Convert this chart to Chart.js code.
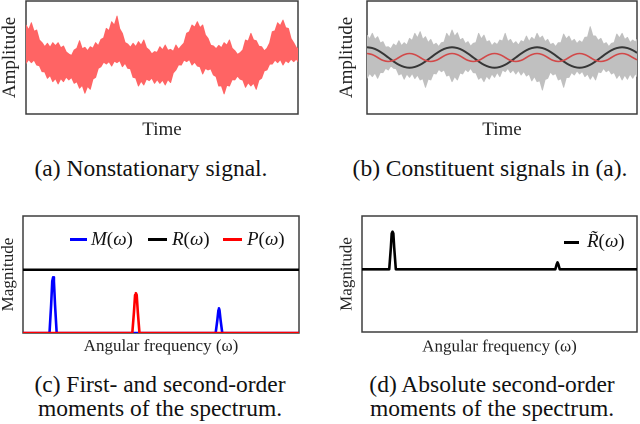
<!DOCTYPE html>
<html>
<head>
<meta charset="utf-8">
<script src="https://cdn.jsdelivr.net/npm/chart.js@4.4.1/dist/chart.umd.min.js"></script>
<style>
  html, body { margin: 0; padding: 0; background: #fff; }
  #fig { position: relative; width: 640px; height: 424px; overflow: hidden;
         font-family: 'Liberation Serif', 'Times New Roman', Times, 'DejaVu Serif', serif; color: #111; }
  #fig canvas { position: absolute; }
  .cap { position: absolute; text-align: center; font-size: 23.5px; line-height: 24px; white-space: nowrap; }
  .leg { position: absolute; font-size: 19px; line-height: 20px; white-space: nowrap; }
  .swatch { position: absolute; height: 3px; }
</style>
</head>
<body>
<div id="fig">
  <canvas id="ch-a" style="left:0;top:0;"></canvas>
  <canvas id="ch-b" style="left:320px;top:0;"></canvas>
  <canvas id="ch-c" style="left:0;top:200px;"></canvas>
  <canvas id="ch-d" style="left:320px;top:200px;"></canvas>

  <div class="cap" style="left:1px;width:300px;top:156px;">(a) Nonstationary signal.</div>
  <div class="cap" style="left:330px;width:320px;top:156px;">(b) Constituent signals in (a).</div>
  <div class="cap" style="left:0;width:320px;top:372px;">(c) First- and second-order<br>moments of the spectrum.</div>
  <div class="cap" style="left:332px;width:320px;top:372px;">(d) Absolute second-order<br>moments of the spectrum.</div>

  <div class="swatch" style="left:70px;top:238px;width:17px;background:#0000ff;"></div>
  <div class="leg" style="left:91px;top:229px;"><i>M</i>(<i>ω</i>)</div>
  <div class="swatch" style="left:148px;top:238px;width:19px;background:#000;"></div>
  <div class="leg" style="left:172px;top:229px;"><i>R</i>(<i>ω</i>)</div>
  <div class="swatch" style="left:223px;top:238px;width:19px;background:#ff0000;"></div>
  <div class="leg" style="left:247px;top:229px;"><i>P</i>(<i>ω</i>)</div>

  <div class="swatch" style="left:564px;top:241px;width:15px;background:#000;"></div>
  <div class="leg" style="left:587px;top:231px;"><i>R&#771;</i>(<i>ω</i>)</div>
</div>

<script>
// ── Data: time-domain panels (a), (b) ──────────────
// band edges are sampled every half step, the two sinusoids every step
const bandT = [0,0.5,1,1.5,2,2.5,3,3.5,4,4.5,5,5.5,6,6.5,7,7.5,8,8.5,9,9.5,10,10.5,11,11.5,12,12.5,
  13,13.5,14,14.5,15,15.5,16,16.5,17,17.5,18,18.5,19,19.5,20,20.5,21,21.5,22,22.5,23,23.5,24,24.5,25,25.5,
  26,26.5,27,27.5,28,28.5,29,29.5,30,30.5,31,31.5,32,32.5,33,33.5,34,34.5,35,35.5,36,36.5,37,37.5,38,38.5,
  39,39.5,40,40.5,41,41.5,42,42.5,43,43.5,44,44.5,45,45.5,46,46.5,47,47.5,48,48.5,49,49.5,50,50.5,50.8];
const timeT = [0,1,2,3,4,5,6,7,8,9,10,11,12,13,14,15,16,17,18,19,20,21,22,23,24,25,
  26,27,28,29,30,31,32,33,34,35,36,37,38,39,40,41,42,43,44,45,46,47,48,49,50,50.8];

// (a) nonstationary signal, upper / lower edge of the red band
const sigUpper = [3.16,2.70,3.38,2.55,2.67,1.70,1.44,1.05,1.38,1.00,1.44,1.15,1.44,0.95,1.12,0.55,0.34,0.20,0.73,0.90,
  1.63,0.85,0.99,0.65,1.05,0.90,1.44,1.15,1.76,1.90,2.83,2.60,3.48,3.15,4.03,2.80,2.35,1.45,1.31,1.00,
  1.38,1.05,1.54,1.20,1.70,0.95,0.73,0.35,0.57,0.50,1.05,0.75,1.21,0.70,0.79,0.60,1.21,0.80,1.12,1.40,
  2.35,2.50,3.16,2.95,3.48,2.90,3.16,2.20,1.86,1.20,1.12,0.85,1.18,0.95,1.44,1.20,1.70,0.90,0.66,0.30,
  0.47,0.75,1.70,1.60,2.35,1.70,1.63,1.10,1.05,0.65,0.89,1.40,2.51,2.60,3.38,3.10,3.64,2.90,2.83,1.85,
  1.44,0.95,0.89];
const sigLower = [-0.57,-0.20,-0.50,-0.25,-0.73,-0.80,-1.38,-1.40,-2.02,-1.75,-2.35,-2.05,-2.57,-2.05,-2.35,-1.90,-2.18,-1.95,-2.51,-2.35,
  -2.99,-2.70,-3.48,-2.80,-3.09,-2.10,-1.93,-1.05,-0.89,-0.45,-0.63,-0.40,-0.83,-0.35,-0.50,-0.30,-0.89,-0.55,-1.05,-1.10,
  -1.93,-2.00,-2.77,-2.30,-2.67,-2.10,-2.25,-2.00,-2.51,-2.15,-2.51,-2.20,-2.67,-2.15,-2.44,-1.50,-1.21,-0.70,-0.73,-0.25,
  -0.40,-0.20,-0.73,-0.45,-0.83,-0.90,-1.60,-1.05,-1.21,-1.10,-1.70,-1.85,-2.77,-2.75,-3.54,-2.70,-2.77,-2.15,-2.18,-1.80,
  -2.11,-2.20,-2.90,-2.45,-2.77,-2.50,-3.09,-2.20,-2.02,-1.30,-1.21,-0.65,-0.63,-0.25,-0.50,-0.20,-0.73,-0.30,-0.50,-0.15,
  -0.40,-0.15,-0.40];

// (b) noise component (gray band) and the two sinusoids
const noiseUpper = [2.18,1.80,2.35,1.75,2.02,1.40,1.54,1.00,1.05,0.85,1.31,1.10,1.63,1.15,1.44,1.20,1.86,1.65,2.35,1.90,
  2.51,1.75,2.02,1.45,1.76,1.20,1.38,1.05,1.44,1.50,2.35,1.95,2.67,2.05,2.41,1.70,1.86,1.35,1.54,1.10,
  1.38,1.45,2.35,1.80,2.18,1.50,1.63,1.15,1.44,1.25,1.70,1.60,2.35,1.55,1.76,1.30,1.54,1.20,1.63,1.50,
  2.08,1.55,1.96,1.70,2.35,1.85,2.08,1.55,1.76,1.25,1.38,1.05,1.44,1.45,2.28,1.80,2.08,1.55,1.76,1.35,
  1.63,1.45,1.96,2.00,2.99,2.10,2.08,1.65,1.86,1.30,1.44,1.05,1.38,1.45,2.28,1.90,2.35,1.75,1.96,1.45,
  1.70,1.50,1.76];
const noiseLower = [-2.02,-1.55,-1.86,-1.50,-2.02,-1.45,-1.47,-1.05,-1.21,-0.80,-1.05,-1.10,-1.70,-1.55,-2.11,-1.60,-1.93,-1.55,-2.05,-1.70,
  -2.18,-2.05,-2.90,-2.10,-2.18,-1.55,-1.60,-1.15,-1.38,-1.20,-1.80,-1.70,-2.35,-1.85,-2.18,-1.50,-1.60,-1.15,-1.38,-1.05,
  -1.47,-1.50,-2.11,-1.90,-2.35,-1.80,-2.11,-1.60,-1.93,-1.45,-1.86,-1.20,-1.38,-1.05,-1.47,-1.20,-1.60,-1.25,-1.70,-1.35,
  -1.80,-1.60,-2.27,-1.85,-2.35,-2.25,-3.16,-2.15,-2.02,-1.40,-1.70,-1.55,-2.18,-2.05,-2.90,-1.95,-1.93,-1.45,-1.70,-1.30,
  -1.60,-1.35,-1.86,-1.60,-2.11,-1.70,-2.18,-1.40,-1.47,-1.05,-1.38,-1.20,-1.60,-1.45,-2.02,-1.65,-2.18,-1.70,-2.11,-1.60,
  -2.02,-1.55,-1.86];
const slowWave = [1,0.92,0.71,0.38,0,-0.38,-0.71,-0.92,-1,-0.92,-0.71,-0.38,0,0.38,0.71,0.92,1,0.92,0.71,0.38,
  0,-0.38,-0.71,-0.92,-1,-0.92,-0.71,-0.38,0,0.38,0.71,0.92,1,0.92,0.71,0.38,0,-0.38,-0.71,-0.92,
  -1,-0.92,-0.71,-0.38,0,0.38,0.71,0.92,1,0.92,0.71,0.45];
const fastWave = [0.39,0.28,0,-0.28,-0.39,-0.28,0,0.28,0.39,0.28,0,-0.28,-0.39,-0.28,0,0.28,0.39,0.28,0,-0.28,
  -0.39,-0.28,0,0.28,0.39,0.28,0,-0.28,-0.39,-0.28,0,0.28,0.39,0.28,0,-0.28,-0.39,-0.28,0,0.28,
  0.39,0.28,0,-0.28,-0.39,-0.28,0,0.28,0.39,0.28,0,-0.23];

// ── Data: spectra (c), (d) ─────────────────────────
const mFreq = [0,9.6,10.2,10.6,10.9,11.2,11.6,12.2,69.8,70.4,70.8,71.0,71.2,71.6,72.2,100];
const mMag  = [0,0,0.45,0.82,0.88,0.82,0.45,0,0,0.2,0.36,0.39,0.36,0.2,0,0];
const rFreq = [0,100];
const rMag  = [1,1];
const pFreq = [0,39.6,40.2,40.6,40.9,41.2,41.6,42.2,100];
const pMag  = [0,0,0.33,0.6,0.63,0.6,0.33,0,0];
const rtFreq = [0,9.9,10.5,10.8,11.1,11.4,11.7,12.3,70.3,70.8,71.1,71.4,71.9,100];
const rtMag  = [1,1,1.35,1.57,1.6,1.57,1.35,1,1,1.08,1.11,1.08,1,1];

// ── Helpers ────────────────────────────────────────
const SERIF = "'Liberation Serif', 'Times New Roman', Times, 'DejaVu Serif', serif";
const zip = (xs, ys) => xs.map((x, i) => ({ x, y: ys[i] }));

const framePlugin = {
    id: 'frame',
    beforeDatasetsDraw(chart) {
        const a = chart.chartArea, ctx = chart.ctx;
        ctx.save();
        ctx.strokeStyle = '#3c3c3c';
        ctx.lineWidth = 1.5;
        ctx.strokeRect(a.left, a.top, a.right - a.left, a.bottom - a.top);
        ctx.restore();
    }
};

// order: lower number is drawn on top
function line(data, color, width, order, extra) {
    return Object.assign({ data, borderColor: color, backgroundColor: color, borderWidth: width,
        borderJoinStyle: 'round', pointRadius: 0, tension: 0, fill: false, order }, extra || {});
}

// p: canvas size, axis sizes, paddings, titles, ranges
function makeChart(id, p, datasets) {
    const cv = document.getElementById(id);
    cv.width = p.w; cv.height = p.h;
    cv.style.width = p.w + 'px'; cv.style.height = p.h + 'px';
    return new Chart(cv, {
        type: 'line',
        data: { datasets },
        options: {
            responsive: false, animation: false, devicePixelRatio: 2,
            layout: { padding: { top: p.padTop, right: p.padRight, left: 0, bottom: 0 } },
            plugins: { legend: { display: false }, tooltip: { enabled: false } },
            scales: {
                x: {
                    type: 'linear', min: p.xMin, max: p.xMax,
                    ticks: { display: false }, grid: { display: false }, border: { display: false },
                    title: { display: true, text: p.xTitle, color: '#222', padding: { top: 0, bottom: p.xTitlePad },
                        font: { family: SERIF, size: p.font, lineHeight: 1 } },
                    afterFit: s => { s.height = p.xAxisH; }
                },
                y: {
                    min: p.yMin, max: p.yMax,
                    ticks: { display: false }, grid: { display: false }, border: { display: false },
                    title: { display: true, text: p.yTitle, color: '#222', padding: { top: p.yTitlePad, bottom: 0 },
                        font: { family: SERIF, size: p.font, lineHeight: 1 } },
                    afterFit: s => { s.width = p.yAxisW; }
                }
            }
        },
        plugins: [framePlugin]
    });
}

// ── (a) Nonstationary signal ───────────────────────
const bandRed = 'rgb(255,100,100)';
makeChart('ch-a', { w: 310, h: 145, padTop: 1, padRight: 12, xAxisH: 31, yAxisW: 26,
    xTitle: 'Time', yTitle: 'Amplitude', xTitlePad: 5.5, yTitlePad: 0.5, font: 19,
    xMin: 0, xMax: 50.8, yMin: -5.5, yMax: 5.5 }, [
    line(zip(bandT, sigUpper), bandRed, 1, 1, { fill: '+1' }),
    line(zip(bandT, sigLower), bandRed, 1, 2)
]);

// ── (b) Constituent signals ────────────────────────
const bandGray = 'rgb(192,192,192)';
makeChart('ch-b', { w: 320, h: 145, padTop: 1, padRight: 3, xAxisH: 31, yAxisW: 47,
    xTitle: 'Time', yTitle: 'Amplitude', xTitlePad: 5.5, yTitlePad: 17.5, font: 19,
    xMin: 0, xMax: 50.8, yMin: -5.5, yMax: 5.5 }, [
    line(zip(bandT, noiseUpper), bandGray, 1, 3, { fill: '+1' }),
    line(zip(bandT, noiseLower), bandGray, 1, 4),
    line(zip(timeT, slowWave), '#363636', 2, 1, { tension: 0.4 }),
    line(zip(timeT, fastWave), '#d24848', 1.6, 0, { tension: 0.4 })
]);

// ── (c) First- and second-order moments ────────────
makeChart('ch-c', { w: 310, h: 160, padTop: 16, padRight: 11, xAxisH: 27, yAxisW: 23,
    xTitle: 'Angular frequency (ω)', yTitle: 'Magnitude', xTitlePad: 4.8, yTitlePad: 0, font: 17,
    xMin: 0, xMax: 100, yMin: 0, yMax: 1.85 }, [
    line(zip(mFreq, mMag), '#0000ff', 2.6, 2),
    line(zip(rFreq, rMag), '#000000', 2.5, 1),
    line(zip(pFreq, pMag), '#ff0000', 2.6, 0)
]);

// ── (d) Absolute second-order moments ──────────────
makeChart('ch-d', { w: 320, h: 160, padTop: 16, padRight: 3, xAxisH: 28, yAxisW: 42,
    xTitle: 'Angular frequency (ω)', yTitle: 'Magnitude', xTitlePad: 4.5, yTitlePad: 18.5, font: 17,
    xMin: 0, xMax: 100, yMin: 0, yMax: 1.85 }, [
    line(zip(rtFreq, rtMag), '#000000', 2.6, 0)
]);
</script>
</body>
</html>
